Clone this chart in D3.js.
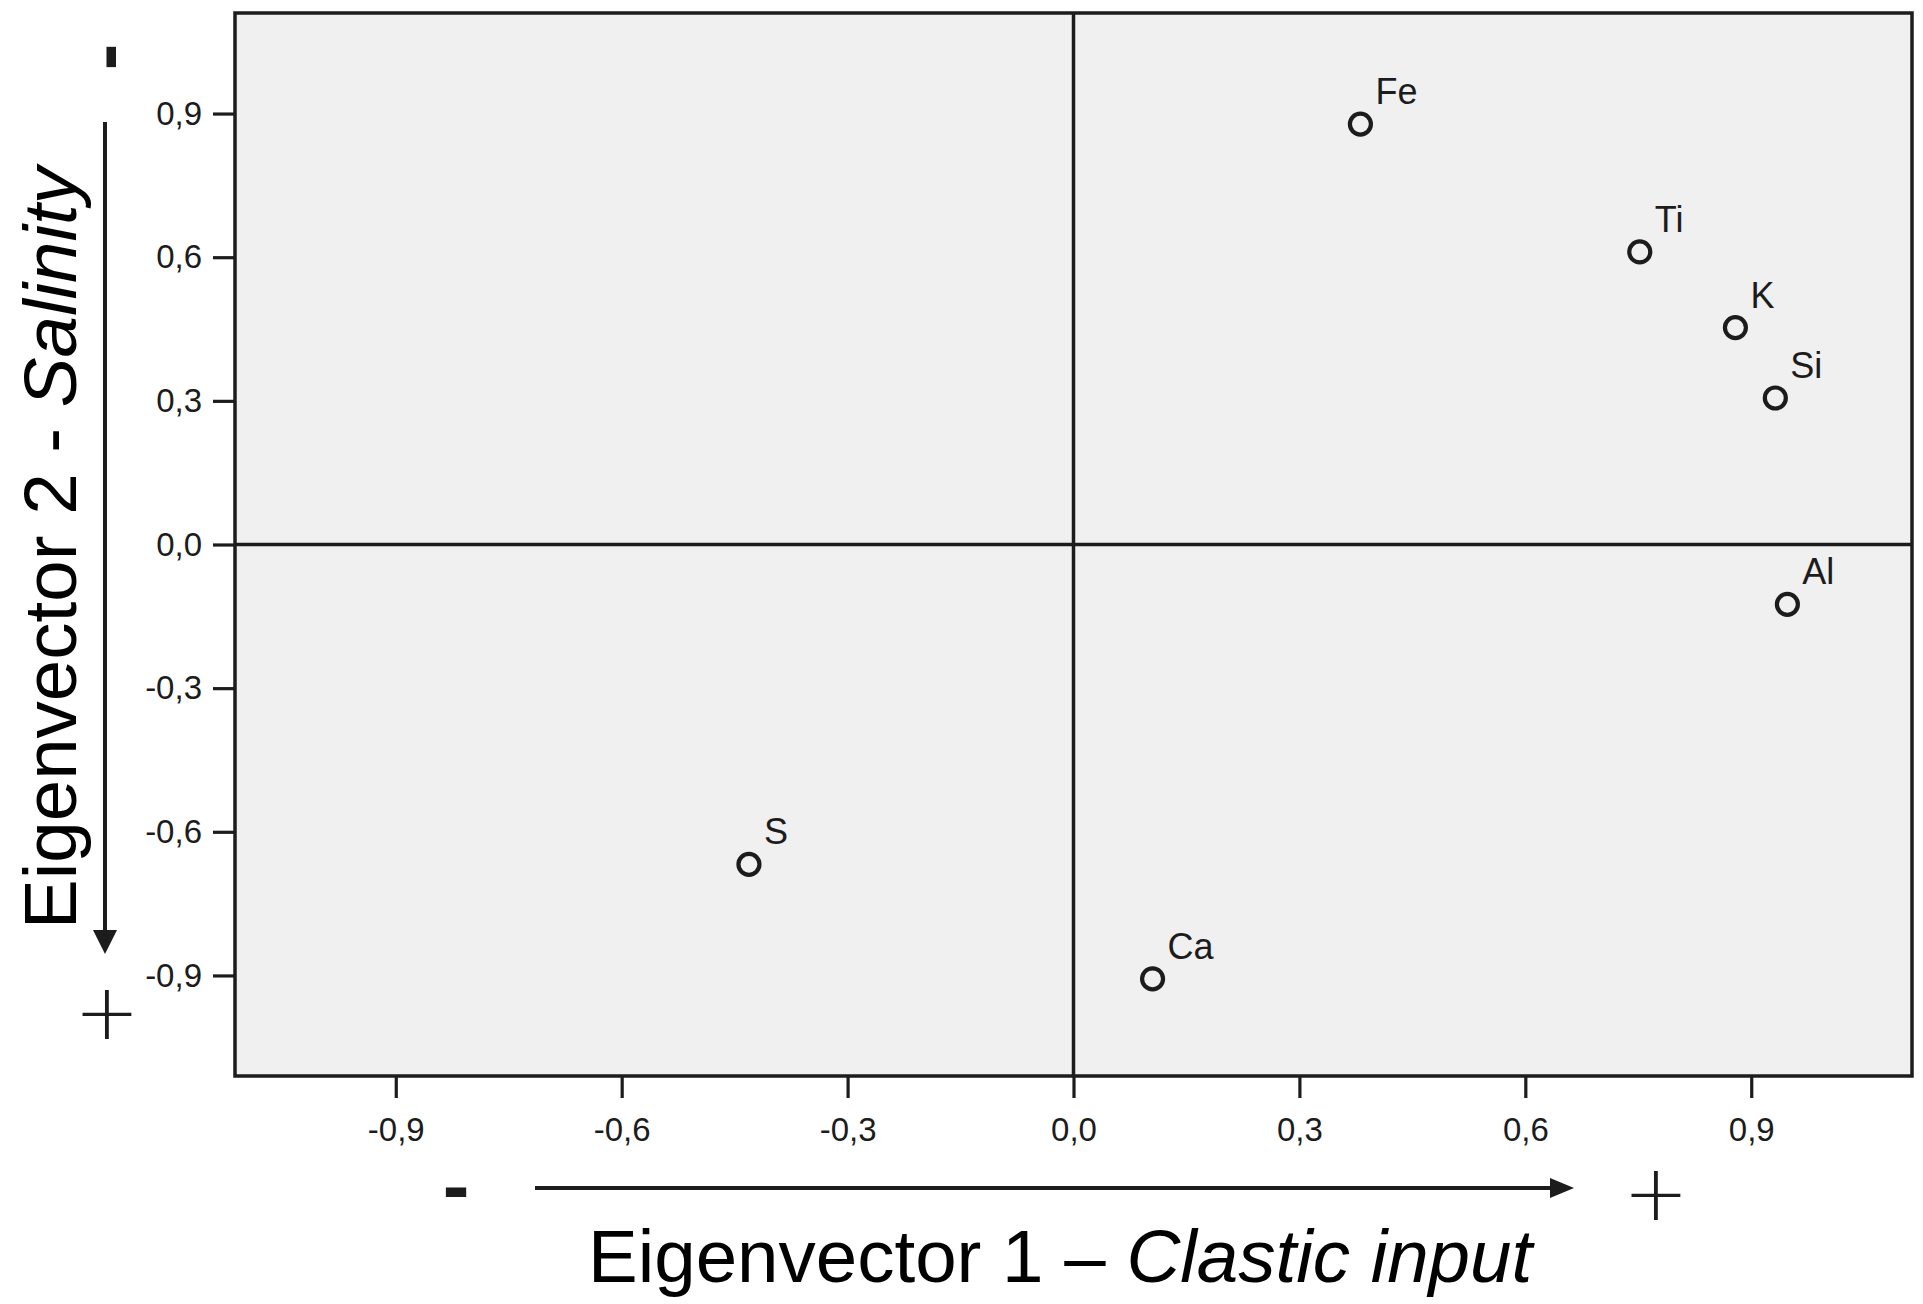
<!DOCTYPE html>
<html>
<head>
<meta charset="utf-8">
<script src="https://cdn.jsdelivr.net/npm/d3@7"></script>
<style>
  body { margin: 0; background: #ffffff; }
  svg { display: block; }
</style>
</head>
<body>
<script>
// element loadings on the first two eigenvectors
const elements = ["Fe", "Ti", "K", "Si", "Al", "S", "Ca"];
const eigen1 = [0.381, 0.752, 0.879, 0.932, 0.948, -0.431, 0.105];
const eigen2 = [0.878, 0.611, 0.453, 0.306, -0.125, -0.668, -0.907];
const tickValues = [-0.9, -0.6, -0.3, 0.0, 0.3, 0.6, 0.9];

let width = 1923;
let height = 1304;
let marginTop = 13;
let marginLeft = 235;
let chartWidth = 1677;
let chartHeight = 1063;

const ink = "#1c1c1c";
const font = "'Liberation Sans', Arial, sans-serif";

const svg = d3.select("body")
    .append("svg")
    .attr("width", width)
    .attr("height", height);

const xScale = d3.scaleLinear()
    .domain([-1.1135, 1.1135])
    .range([0, chartWidth]);
const yScale = d3.scaleLinear()
    .domain([-1.11, 1.11])
    .range([chartHeight, 0]);

const fmt = d => d3.format(".1f")(d).replace(".", ",").replace("−", "-");

const g = svg.append("g")
    .attr("transform", "translate(" + marginLeft + "," + marginTop + ")");

// plot background
g.append("rect")
    .attr("width", chartWidth)
    .attr("height", chartHeight)
    .attr("fill", "#f0f0f0");

// zero lines
g.append("line")
    .attr("x1", 0).attr("x2", chartWidth)
    .attr("y1", yScale(0)).attr("y2", yScale(0))
    .attr("stroke", ink).attr("stroke-width", 3.5);
g.append("line")
    .attr("x1", xScale(0)).attr("x2", xScale(0))
    .attr("y1", 0).attr("y2", chartHeight)
    .attr("stroke", ink).attr("stroke-width", 3.5);

// axes
const xAxis = g.append("g")
    .attr("transform", "translate(0," + chartHeight + ")")
    .call(d3.axisBottom(xScale).tickValues(tickValues).tickFormat(fmt)
        .tickSize(22).tickSizeOuter(0).tickPadding(20));
const yAxis = g.append("g")
    .call(d3.axisLeft(yScale).tickValues(tickValues).tickFormat(fmt)
        .tickSize(22).tickSizeOuter(0).tickPadding(11));

[xAxis, yAxis].forEach(ax => {
    ax.select(".domain").remove();
    ax.selectAll("line").attr("stroke", ink).attr("stroke-width", 3.2);
    ax.selectAll("text")
        .attr("fill", ink)
        .attr("font-size", "33px")
        .attr("font-family", font);
});

// frame
g.append("rect")
    .attr("width", chartWidth)
    .attr("height", chartHeight)
    .attr("fill", "none")
    .attr("stroke", ink)
    .attr("stroke-width", 3.5);

// points
const idx = d3.range(elements.length);
g.selectAll("circle.pt")
    .data(idx)
    .enter()
    .append("circle")
    .attr("class", "pt")
    .attr("cx", i => xScale(eigen1[i]))
    .attr("cy", i => yScale(eigen2[i]))
    .attr("r", 10.5)
    .attr("fill", "none")
    .attr("stroke", ink)
    .attr("stroke-width", 4.2);

g.selectAll("text.lbl")
    .data(idx)
    .enter()
    .append("text")
    .attr("class", "lbl")
    .attr("x", i => xScale(eigen1[i]) + 15)
    .attr("y", i => yScale(eigen2[i]) - 20)
    .attr("fill", ink)
    .attr("font-size", "36px")
    .attr("font-family", font)
    .text(i => elements[i]);

// x axis arrow and title
svg.append("line")
    .attr("x1", 535).attr("x2", 1552)
    .attr("y1", 1188).attr("y2", 1188)
    .attr("stroke", ink).attr("stroke-width", 4);
svg.append("path")
    .attr("d", "M1550,1178 L1574,1188 L1550,1198 Z")
    .attr("fill", ink);

svg.append("text")
    .attr("x", 456).attr("y", 1213)
    .attr("text-anchor", "middle")
    .attr("font-size", "80px")
    .attr("font-weight", "bold")
    .attr("font-family", font)
    .attr("fill", ink)
    .text("-");
svg.append("text")
    .attr("x", 1656).attr("y", 1220)
    .attr("text-anchor", "middle")
    .attr("font-size", "78px")
    .attr("font-weight", 200)
    .attr("font-family", "'DejaVu Sans', sans-serif")
    .attr("fill", ink)
    .text("+");

const xTitle = svg.append("text")
    .attr("x", 588).attr("y", 1282)
    .attr("font-size", "74.5px")
    .attr("font-family", font)
    .attr("fill", "#000");
xTitle.append("tspan").text("Eigenvector 1 \u2013 ");
xTitle.append("tspan").attr("font-style", "italic").text("Clastic input");

// y axis arrow and title
svg.append("line")
    .attr("x1", 105).attr("x2", 105)
    .attr("y1", 122).attr("y2", 932)
    .attr("stroke", ink).attr("stroke-width", 4);
svg.append("path")
    .attr("d", "M93,930 L105,954 L117,930 Z")
    .attr("fill", ink);

svg.append("text")
    .attr("transform", "translate(132,57) rotate(-90)")
    .attr("text-anchor", "middle")
    .attr("font-size", "80px")
    .attr("font-weight", "bold")
    .attr("font-family", font)
    .attr("fill", ink)
    .text("-");
svg.append("text")
    .attr("x", 107).attr("y", 1039)
    .attr("text-anchor", "middle")
    .attr("font-size", "78px")
    .attr("font-weight", 200)
    .attr("font-family", "'DejaVu Sans', sans-serif")
    .attr("fill", ink)
    .text("+");

const yTitle = svg.append("text")
    .attr("transform", "translate(76,548) rotate(-90)")
    .attr("text-anchor", "middle")
    .attr("font-size", "74.5px")
    .attr("font-family", font)
    .attr("fill", "#000");
yTitle.append("tspan").text("Eigenvector 2 - ");
yTitle.append("tspan").attr("font-style", "italic").text("Salinity");
</script>
</body>
</html>
